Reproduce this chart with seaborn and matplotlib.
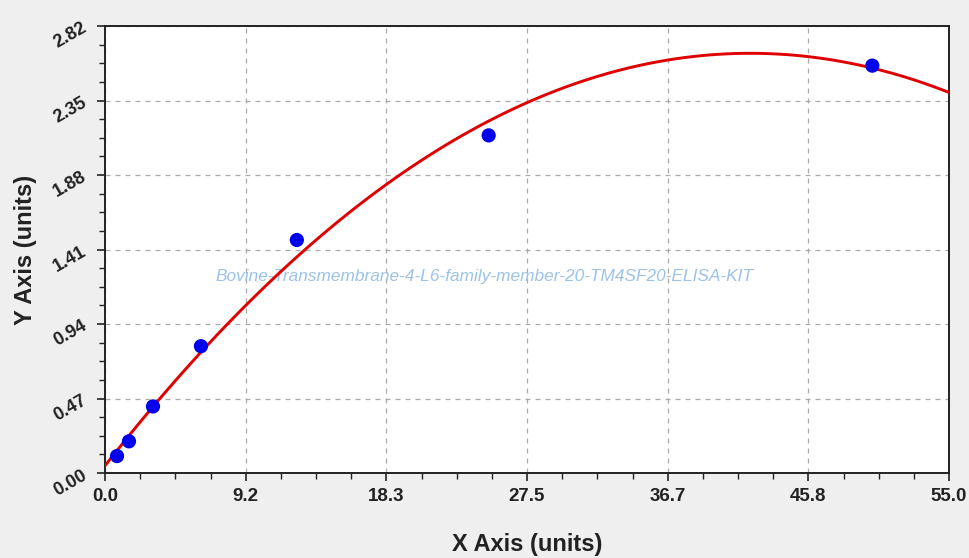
import numpy as np
import pandas as pd
import matplotlib
matplotlib.use("Agg")
import matplotlib.pyplot as plt
import seaborn as sns
from matplotlib.ticker import FixedLocator, AutoMinorLocator

# data
conc = [0.78, 1.56, 3.125, 6.25, 12.5, 25.0, 50.0]
od = [0.107, 0.20, 0.42, 0.80, 1.47, 2.13, 2.57]
x_ticks = [0.0, 55/6, 55/3, 27.5, 110/3, 275/6, 55.0]
x_tick_labels = ["0.0", "9.2", "18.3", "27.5", "36.7", "45.8", "55.0"]
y_ticks = [0.0, 0.47, 0.94, 1.41, 1.88, 2.35, 2.82]
y_tick_labels = ["0.00", "0.47", "0.94", "1.41", "1.88", "2.35", "2.82"]
watermark = "Bovine-Transmembrane-4-L6-family-member-20-TM4SF20-ELISA-KIT"

df = pd.DataFrame({"x": conc, "y": od})

sns.set_style("white")
plt.rcParams["font.family"] = ["Liberation Sans", "DejaVu Sans"]

fig = plt.figure(figsize=(9.69, 5.58), dpi=100, facecolor="#efefef")
ax = fig.add_axes([0.1084, 0.1523, 0.871, 0.8011])
ax.set_facecolor("white")
ax.set_xlim(0, 55)
ax.set_ylim(0, 2.82)

sns.regplot(data=df, x="x", y="y", order=2, ci=None, truncate=False,
            scatter=False, ax=ax,
            line_kws=dict(color="#e00000", lw=2.1, zorder=3))
sns.scatterplot(data=df, x="x", y="y", ax=ax, color="#0000ee", s=105,
                edgecolor="none", zorder=4)

ax.set_xlim(0, 55)
ax.set_ylim(0, 2.82)
ax.xaxis.set_major_locator(FixedLocator(x_ticks))
ax.yaxis.set_major_locator(FixedLocator(y_ticks))
ax.set_xticklabels(x_tick_labels, fontsize=13.5, fontweight="bold", color="#222222")
ax.set_yticklabels(y_tick_labels, fontsize=13, fontweight="bold", color="#222222",
                   rotation=30)
ax.xaxis.set_minor_locator(AutoMinorLocator(4))
ax.yaxis.set_minor_locator(AutoMinorLocator(4))
ax.tick_params(which="major", direction="out", length=6, width=1.2, color="#222222",
               bottom=True, left=True, pad=5)
ax.tick_params(which="minor", direction="out", length=4, width=1.0, color="#222222",
               bottom=True, left=True)
ax.grid(True, which="major", linestyle=(0, (4, 4)), color="#aaaaaa", lw=0.9)
for s in ax.spines.values():
    s.set_color("#222222")
    s.set_linewidth(1.4)

ax.set_xlabel("X Axis (units)", fontsize=17, fontweight="bold", color="#222222",
              labelpad=20)
ax.set_ylabel("Y Axis (units)", fontsize=17, fontweight="bold", color="#222222",
              labelpad=10)

ax.text(0.45, 0.44, watermark, transform=ax.transAxes, fontsize=12.4,
        style="italic", color="#9cc2e8", ha="center", va="center", zorder=2)

fig.savefig("out.png", dpi=100, facecolor=fig.get_facecolor())
